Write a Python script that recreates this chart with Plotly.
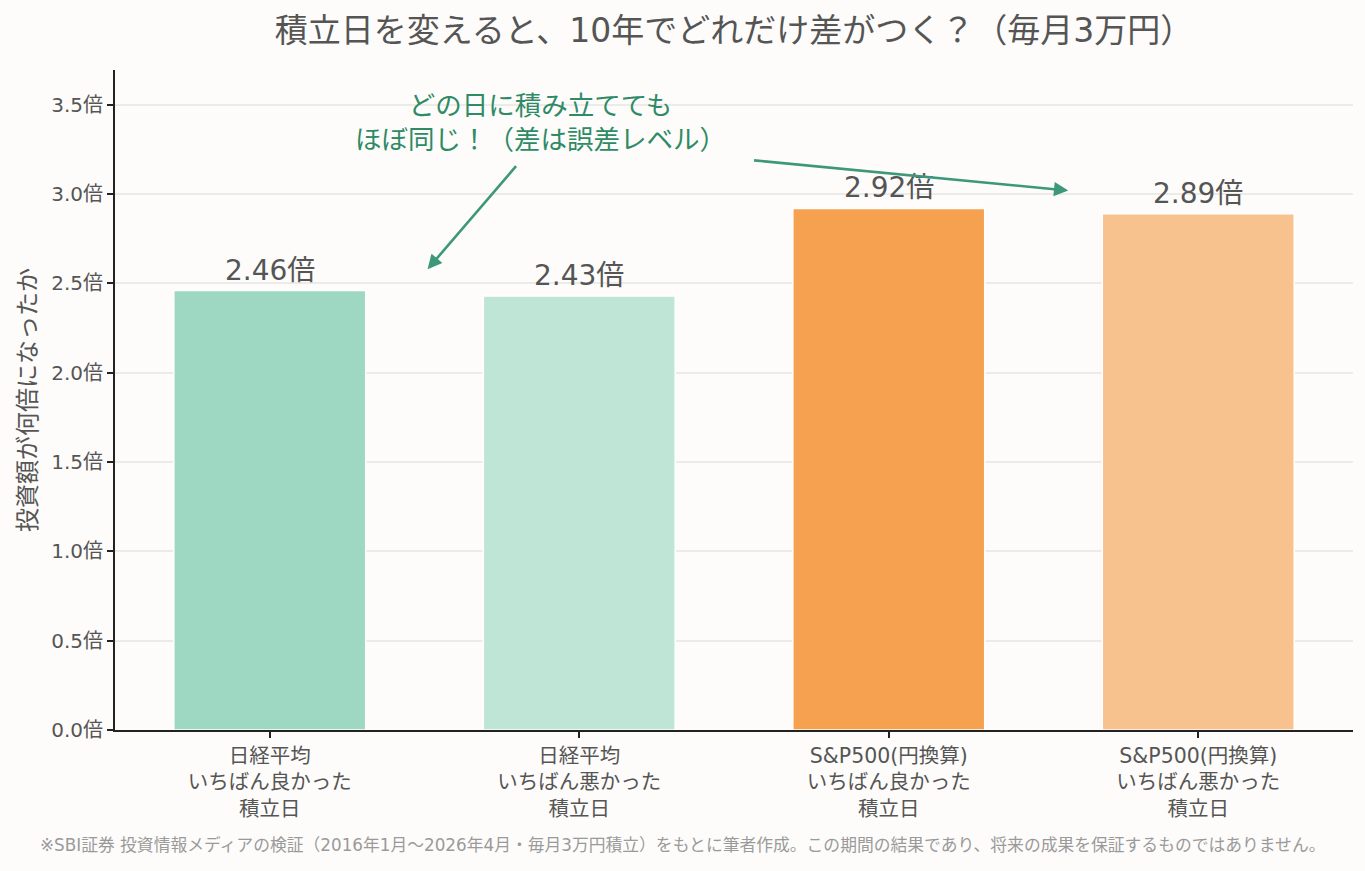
import plotly.graph_objects as go

categories = [
    "日経平均<br>いちばん良かった<br>積立日",
    "日経平均<br>いちばん悪かった<br>積立日",
    "S&P500(円換算)<br>いちばん良かった<br>積立日",
    "S&P500(円換算)<br>いちばん悪かった<br>積立日",
]
values = [2.46, 2.43, 2.92, 2.89]
value_labels = ["2.46倍", "2.43倍", "2.92倍", "2.89倍"]
bar_colors = ["#9FD8C2", "#BFE5D7", "#F5A14F", "#F7C28D"]
tick_vals = [0, 0.5, 1.0, 1.5, 2.0, 2.5, 3.0, 3.5]
tick_text = ["0.0倍", "0.5倍", "1.0倍", "1.5倍", "2.0倍", "2.5倍", "3.0倍", "3.5倍"]

FONT = "DejaVu Sans, Noto Sans CJK JP"
TXT = "#555555"
GREEN_TXT = "#2E8B66"
GREEN_ARROW = "#3D977A"

fig = go.Figure()
fig.add_trace(go.Bar(
    x=list(range(len(categories))),
    y=values,
    marker=dict(color=bar_colors, line=dict(color="#FFFFFF", width=1.5)),
    width=0.62,
    hoverinfo="skip",
))

annotations = []
for i, (v, lab) in enumerate(zip(values, value_labels)):
    annotations.append(dict(
        x=i, y=v, xref="x", yref="y", text=lab, showarrow=False,
        yanchor="bottom", yshift=2,
        font=dict(family=FONT, size=28, color=TXT),
    ))

annotations.append(dict(
    x=0.875, y=3.40, xref="x", yref="y",
    text="どの日に積み立てても<br>ほぼ同じ！（差は誤差レベル）",
    showarrow=False, align="center",
    font=dict(family=FONT, size=26.5, color=GREEN_TXT),
))
annotations.append(dict(
    x=0.51, y=2.58, xref="x", yref="y",
    ax=0.80, ay=3.165, axref="x", ayref="y",
    text="", showarrow=True, arrowhead=2, arrowsize=1.1, arrowwidth=2.6,
    arrowcolor=GREEN_ARROW,
))
annotations.append(dict(
    x=2.58, y=3.02, xref="x", yref="y",
    ax=1.56, ay=3.19, axref="x", ayref="y",
    text="", showarrow=True, arrowhead=2, arrowsize=1.1, arrowwidth=2.6,
    arrowcolor=GREEN_ARROW,
))
annotations.append(dict(
    x=(682.5 - 115) / 1238, y=0, xref="paper", yref="paper",
    yshift=-115, yanchor="middle", showarrow=False,
    text="※SBI証券 投資情報メディアの検証（2016年1月〜2026年4月・毎月3万円積立）をもとに筆者作成。この期間の結果であり、将来の成果を保証するものではありません。",
    font=dict(family=FONT, size=16.8, color="#9A9A9A"),
))

fig.update_layout(
    width=1365, height=871,
    margin=dict(l=115, r=12, t=70, b=141),
    paper_bgcolor="#FDFCFA", plot_bgcolor="#FDFCFA",
    font=dict(family=FONT, color=TXT),
    title=dict(
        text="積立日を変えると、10年でどれだけ差がつく？（毎月3万円）",
        x=0.5, xref="paper", xanchor="center", y=0.965, yanchor="middle",
        font=dict(family=FONT, size=33, color=TXT),
    ),
    showlegend=False,
    annotations=annotations,
)
fig.update_xaxes(
    tickmode="array", tickvals=list(range(len(categories))), ticktext=categories,
    range=[-0.5, 3.5],
    showline=True, linecolor="#222222", linewidth=2,
    ticks="outside", ticklen=6, tickcolor="#222222", tickwidth=1.5,
    tickfont=dict(family=FONT, size=20.5, color=TXT),
    showgrid=False, zeroline=False,
)
fig.update_yaxes(
    range=[0, 3.695],
    tickmode="array", tickvals=tick_vals, ticktext=tick_text,
    showline=True, linecolor="#222222", linewidth=2,
    ticks="outside", ticklen=6, tickcolor="#222222", tickwidth=1.5,
    tickfont=dict(family=FONT, size=20, color=TXT),
    showgrid=True, gridcolor="#EDEBE8", gridwidth=1.5,
    zeroline=False,
    title=dict(text="投資額が何倍になったか", font=dict(family=FONT, size=24, color=TXT), standoff=8),
)

fig.write_html("out.html")
